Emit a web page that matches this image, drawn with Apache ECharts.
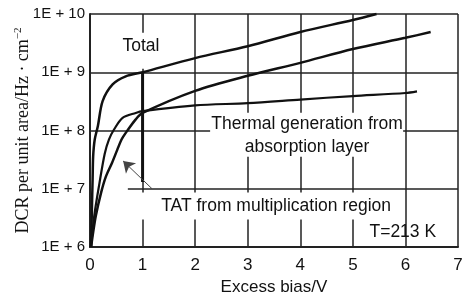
<!DOCTYPE html>
<html>
<head>
<meta charset="utf-8">
<script src="https://cdn.jsdelivr.net/npm/echarts@6/dist/echarts.min.js"></script>
<style>
  html, body { margin: 0; padding: 0; background: #fff; }
  #chart { width: 464px; height: 297px; }
</style>
</head>
<body>
<div id="chart"></div>
<script>
// values: [excess bias (V), DCR]
const totalData = [
  [0.02, 1e6], [0.035, 4e6], [0.05, 1.5e7], [0.06, 3.6e7], [0.09, 7e7],
  [0.15, 1.2e8], [0.24, 3.2e8], [0.43, 6.2e8], [0.68, 8.5e8], [1, 1e9],
  [2, 1.75e9], [3, 2.8e9], [4, 4.9e9], [5, 7.9e9], [5.45, 1e10]
];
const tatData = [
  [0.02, 1e6], [0.05, 1.55e6], [0.11, 3.4e6], [0.21, 8.5e6], [0.3, 1.6e7],
  [0.42, 2.8e7], [0.52, 4.7e7], [0.6, 7e7], [0.68, 9.1e7], [0.87, 1.55e8],
  [1, 2e8], [2, 4.8e8], [3, 8.7e8], [4, 1.45e9], [5, 2.5e9], [6, 3.9e9], [6.48, 4.9e9]
];
const thermalData = [
  [0.02, 1e6], [0.08, 3.4e6], [0.18, 1.25e7], [0.28, 4e7], [0.36, 7e7],
  [0.46, 1.05e8], [0.62, 1.65e8], [0.87, 2e8], [1, 2.15e8], [2, 2.7e8],
  [3, 2.95e8], [4, 3.4e8], [5, 3.9e8], [6, 4.4e8], [6.22, 4.7e8]
];
const markerData = [[1, 1e9], [1, 1.3e7]];
const arrowFrom = [1.18, 1e7];
const arrowTo = [0.63, 3e7];

const xTickLabels = ['0', '1', '2', '3', '4', '5', '6', '7'];
const yTickLabels = ['1E + 6', '1E + 7', '1E + 8', '1E + 9', '1E + 10'];

const chart = echarts.init(document.getElementById('chart'));

const lineStyle = { color: '#111', width: 2.5 };
const gridLine = { color: '#222', width: 1.5 };

chart.setOption({
  animation: false,
  grid: { left: 90, right: 6, top: 14, bottom: 50, outerBoundsMode: 'none' },
  xAxis: {
    type: 'value',
    min: 0, max: 7, interval: 1,
    name: 'Excess bias/V',
    nameLocation: 'middle',
    nameGap: 32,
    nameMoveOverlap: false,
    nameTextStyle: { fontFamily: 'Liberation Sans', fontSize: 17, color: '#111' },
    axisLine: { show: true, lineStyle: { color: '#222', width: 2 } },
    axisTick: { show: false },
    axisLabel: {
      margin: 10,
      fontFamily: 'Liberation Sans', fontSize: 17, color: '#111',
      formatter: (v) => xTickLabels[Math.round(v)]
    },
    splitLine: { show: true, lineStyle: gridLine }
  },
  yAxis: {
    type: 'log',
    logBase: 10,
    min: 1e6, max: 1e10,
    name: '{a|DCR per unit area/Hz · cm}{s|−2}',
    nameLocation: 'middle',
    nameGap: 57,
    nameMoveOverlap: false,
    nameTextStyle: {
      rich: {
        a: { fontFamily: 'Liberation Serif', fontSize: 18, color: '#111', lineHeight: 20 },
        s: { fontFamily: 'Liberation Serif', fontSize: 11, color: '#111', verticalAlign: 'top', lineHeight: 20 }
      }
    },
    axisLine: { show: true, lineStyle: { color: '#222', width: 2 } },
    axisTick: { show: false },
    axisLabel: {
      margin: 5,
      fontFamily: 'Liberation Sans', fontSize: 15, color: '#111',
      formatter: (v) => yTickLabels[Math.round(Math.log10(v)) - 6]
    },
    splitLine: { show: true, lineStyle: gridLine }
  },
  series: [
    {
      name: 'Total', type: 'line', data: totalData,
      showSymbol: false, smooth: 0.3, clip: false,
      lineStyle: lineStyle
    },
    {
      name: 'TAT from multiplication region', type: 'line', data: tatData,
      showSymbol: false, smooth: 0.3,
      lineStyle: lineStyle,
      markLine: {
        silent: true,
        symbol: ['none', 'arrow'],
        symbolSize: 11,
        label: { show: false },
        lineStyle: { color: '#444', width: 1, type: 'solid' },
        data: [[{ coord: arrowFrom }, { coord: arrowTo }]]
      }
    },
    {
      name: 'Thermal generation from absorption layer', type: 'line', data: thermalData,
      showSymbol: false, smooth: 0.3,
      lineStyle: { color: '#111', width: 2.2 }
    },
    {
      name: 'marker', type: 'line', data: markerData,
      showSymbol: false,
      lineStyle: { color: '#111', width: 3 }
    }
  ]
});

// annotations, anchored in data coordinates
const px = (p) => chart.convertToPixel({ gridIndex: 0 }, p);
const labelFont = '17.5px "Liberation Sans"';

function boxedText(anchor, lines, box) {
  const [cx, cy] = px(anchor);
  const els = [];
  if (box) {
    els.push({
      type: 'rect', z: 1,
      shape: { x: cx + box[0], y: cy + box[1], width: box[2] - box[0], height: box[3] - box[1] },
      style: { fill: '#fff' }
    });
  }
  const lh = 23;
  lines.forEach((t, i) => {
    els.push({
      type: 'text', z: 1,
      x: cx, y: cy + (i - (lines.length - 1) / 2) * lh,
      style: { text: t, font: labelFont, fill: '#111', align: 'center', verticalAlign: 'middle' }
    });
  });
  return els;
}

const gapL = px([0.02, 1e7]);
const gapR = px([0.72, 1e7]);

chart.setOption({
  graphic: [
    { type: 'rect', z: 1, shape: { x: gapL[0], y: gapL[1] - 1.5, width: gapR[0] - gapL[0], height: 3 }, style: { fill: '#fff' } },
    ...boxedText([0.97, 2.75e9], ['Total'], [-25, -14, 25, 22]),
    ...boxedText([4.13, 8.1e7], ['Thermal generation from', 'absorption layer'], [-97, -23, 96, 21]),
    ...boxedText([3.54, 4.95e6], ['TAT from multiplication region'], [-136, -14, 124, 13]),
    ...boxedText([5.95, 1.78e6], ['T=213 K'], null)
  ]
});
</script>
</body>
</html>
